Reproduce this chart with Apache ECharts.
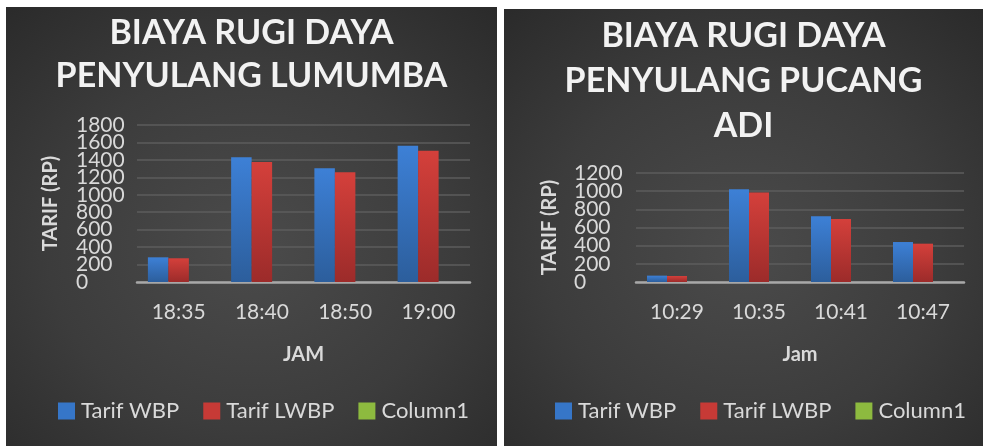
<!DOCTYPE html>
<html><head><meta charset="utf-8">
<script src="https://cdn.jsdelivr.net/npm/echarts@6/dist/echarts.min.js"></script>
<style>
html,body{margin:0;padding:0;background:#fff;width:983px;height:446px;overflow:hidden}
.panel{position:absolute;background:radial-gradient(ellipse 75% 75% at 50% 55%, #4b4b4b 0%, #3c3c3c 55%, #2a2a2a 100%);}
#c1{left:6px;top:7px;width:491px;height:439px}
#c2{left:504px;top:9px;width:479px;height:437px}
</style></head><body>
<div id="c1" class="panel"></div><div id="c2" class="panel"></div>
<script>
// ---- data ----
const seriesNames = ['Tarif WBP', 'Tarif LWBP', 'Column1'];

const lumumbaTitle = 'BIAYA RUGI DAYA\nPENYULANG LUMUMBA';
const lumumbaCategories = ['18:35', '18:40', '18:50', '19:00'];
const lumumbaWBP = [283, 1430, 1304, 1563];
const lumumbaLWBP = [272, 1376, 1258, 1505];
const lumumbaColumn1 = [null, null, null, null];
const lumumbaYMax = 1800;
const lumumbaXName = 'JAM';

const pucangTitle = 'BIAYA RUGI DAYA\nPENYULANG PUCANG\nADI';
const pucangCategories = ['10:29', '10:35', '10:41', '10:47'];
const pucangWBP = [70, 1020, 723, 440];
const pucangLWBP = [66, 984, 694, 422];
const pucangColumn1 = [null, null, null, null];
const pucangYMax = 1200;
const pucangXName = 'Jam';

const yInterval = 200;
const yName = 'TARIF (RP)';

// ---- styles ----
const FONT = 'Lato';
function grad(top, bottom) {
  return new echarts.graphic.LinearGradient(0, 0, 0, 1, [
    { offset: 0, color: top }, { offset: 1, color: bottom }
  ]);
}
const colors = [grad('#3d80d6', '#2c5e9c'), grad('#d4403b', '#9c2b2a'), grad('#9bc548', '#76a030')];
const legendColors = ['#3676c8', '#c73a36', '#8dba3f'];

// The tick labels sit closer together than their height (as in the original),
// so they are split over two coincident y axes (alternate ticks each) to keep all visible.
function yAxisDef(cfg, parity, withName) {
  return {
    type: 'value', min: 0, max: cfg.ymax, interval: yInterval, position: 'left', offset: 0,
    axisLine: { show: false }, axisTick: { show: false },
    splitLine: { show: parity === 0, lineStyle: { color: '#5c5c5c', width: 1.5 } },
    axisLabel: {
      fontFamily: FONT, fontSize: 21, color: '#d9d9d9', align: 'left', margin: cfg.ylm,
      hideOverlap: false, showMinLabel: true, showMaxLabel: true,
      formatter: v => (Math.round(v / yInterval) % 2 === parity ? String(v) : '')
    },
    name: withName ? yName : '', nameLocation: 'middle', nameRotate: 90, nameGap: cfg.yng,
    nameTextStyle: { fontFamily: FONT, fontWeight: 'bold', fontSize: 20, color: '#d9d9d9' }
  };
}

function makeOption(cfg) {
  const data = [cfg.wbp, cfg.lwbp, cfg.col1];
  return {
    animation: false,
    title: {
      text: cfg.title, left: 'center', top: cfg.titleTop,
      textStyle: { fontFamily: FONT, fontWeight: 'bold', fontSize: 34, color: '#f2f2f2', lineHeight: cfg.titleLH }
    },
    legend: {
      left: cfg.legendLeft, top: cfg.legendTop, itemWidth: 17, itemHeight: 17, itemGap: 24,
      icon: 'rect', padding: 0,
      textStyle: { fontFamily: FONT, fontSize: 22, color: '#d9d9d9', padding: [0, 0, 0, 1] },
      data: seriesNames.map((n, i) => ({ name: n, itemStyle: { color: legendColors[i] } }))
    },
    grid: { left: cfg.gl, top: cfg.gt, width: cfg.gw, height: cfg.gh },
    xAxis: {
      type: 'category', data: cfg.cats,
      axisLine: { lineStyle: { color: '#a8a8a8', width: 2.5 } },
      axisTick: { show: false },
      axisLabel: { fontFamily: FONT, fontSize: 21, color: '#d9d9d9', margin: 20 },
      name: cfg.xName, nameLocation: 'middle', nameGap: 63,
      nameTextStyle: { fontFamily: FONT, fontWeight: 'bold', fontSize: 20, color: '#d9d9d9' }
    },
    yAxis: [yAxisDef(cfg, 0, true), yAxisDef(cfg, 1, false)],
    series: seriesNames.map((n, i) => ({
      name: n, type: 'bar', data: data[i], barWidth: cfg.bw, barGap: '0%', yAxisIndex: 0,
      itemStyle: { color: colors[i] }
    }))
  };
}

const c1 = echarts.init(document.getElementById('c1'), null, { renderer: 'canvas' });
c1.setOption(makeOption({
  title: lumumbaTitle, titleTop: 0, titleLH: 43,
  cats: lumumbaCategories, wbp: lumumbaWBP, lwbp: lumumbaLWBP, col1: lumumbaColumn1,
  ymax: lumumbaYMax, xName: lumumbaXName,
  gl: 131, gt: 118, gw: 333, gh: 157, ylm: 61, yng: 76, bw: 20.5,
  legendLeft: 52, legendTop: 393
}));
const c2 = echarts.init(document.getElementById('c2'), null, { renderer: 'canvas' });
c2.setOption(makeOption({
  title: pucangTitle, titleTop: 0, titleLH: 45,
  cats: pucangCategories, wbp: pucangWBP, lwbp: pucangLWBP, col1: pucangColumn1,
  ymax: pucangYMax, xName: pucangXName,
  gl: 132, gt: 164, gw: 328, gh: 109, ylm: 62, yng: 76, bw: 20,
  legendLeft: 51, legendTop: 391
}));
</script>
</body></html>
